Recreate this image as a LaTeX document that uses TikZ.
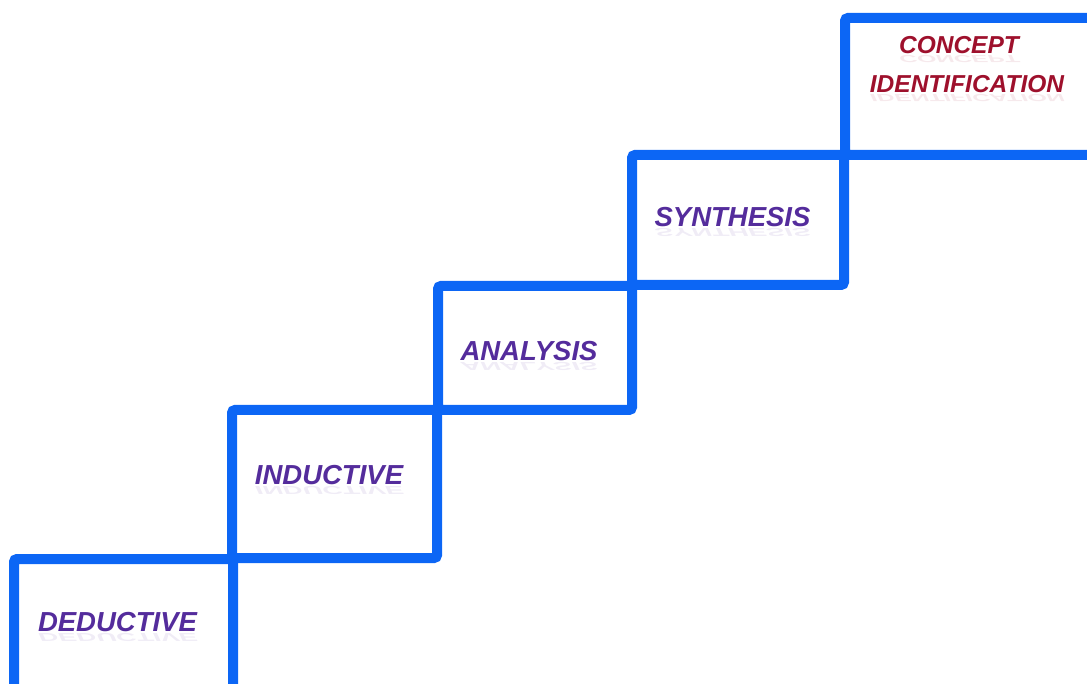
\documentclass[tikz,border=0pt]{standalone}
\usepackage{fontspec}
\setmainfont{Liberation Sans}
\usepackage{graphicx}
\definecolor{stepblue}{RGB}{12,102,245}
\definecolor{labelpurple}{RGB}{84,44,156}
\definecolor{labelred}{RGB}{158,16,44}
\newcommand{\mirrored}[1]{\scalebox{1}[-0.42]{#1}}
\begin{document}
\begin{tikzpicture}[x=1pt,y=-1pt,
  stair/.style={draw=stepblue, line width=10pt, rounded corners=3pt,
    anchor=north west, inner sep=0pt, outer sep=0pt},
  lbl/.style={font=\fontsize{27.5}{30}\selectfont\bfseries\itshape,
    text=labelpurple, inner sep=0pt},
  toplbl/.style={lbl, font=\fontsize{24.5}{30}\selectfont\bfseries\itshape,
    text=labelred},
  echo/.style={inner sep=0pt, anchor=north, opacity=0.09},
]
\useasboundingbox (0,0) rectangle (1087,684);
\clip (0,0) rectangle (1087,684);

% the five steps of the staircase
\node[stair, minimum width=219pt, minimum height=160pt] (deductivebox) at (14,559) {};
\node[stair, minimum width=205pt, minimum height=148pt] (inductivebox) at (232,410) {};
\node[stair, minimum width=194pt, minimum height=124pt] (analysisbox) at (438,286) {};
\node[stair, minimum width=212pt, minimum height=130pt] (synthesisbox) at (632,155) {};
\node[stair, minimum width=260pt, minimum height=137pt] (conceptbox) at (845,18) {};

% step labels
\node[lbl] (deductive) at (117.5,622) {DEDUCTIVE};
\node[lbl] (inductive) at (329,475) {INDUCTIVE};
\node[lbl] (analysis) at (529,351) {ANALYSIS};
\node[lbl] (synthesis) at (732.5,217) {SYNTHESIS};
\node[toplbl] (concept) at (959,45) {CONCEPT};
\node[toplbl] (identification) at (967,84.5) {IDENTIFICATION};

% soft reflections under the labels
\node[echo, text=labelpurple, font=\fontsize{27.5}{30}\selectfont\bfseries\itshape] (deductiveecho) at ([yshift=-1pt]deductive.south) {\mirrored{DEDUCTIVE}};
\node[echo, text=labelpurple, font=\fontsize{27.5}{30}\selectfont\bfseries\itshape] (inductiveecho) at ([yshift=-1pt]inductive.south) {\mirrored{INDUCTIVE}};
\node[echo, text=labelpurple, font=\fontsize{27.5}{30}\selectfont\bfseries\itshape] (analysisecho) at ([yshift=-1pt]analysis.south) {\mirrored{ANALYSIS}};
\node[echo, text=labelpurple, font=\fontsize{27.5}{30}\selectfont\bfseries\itshape] (synthesisecho) at ([yshift=-1pt]synthesis.south) {\mirrored{SYNTHESIS}};
\node[echo, text=labelred, font=\fontsize{24.5}{30}\selectfont\bfseries\itshape] (conceptecho) at ([yshift=-1pt]concept.south) {\mirrored{CONCEPT}};
\node[echo, text=labelred, font=\fontsize{24.5}{30}\selectfont\bfseries\itshape] (identificationecho) at ([yshift=-1pt]identification.south) {\mirrored{IDENTIFICATION}};
\end{tikzpicture}
\end{document}
